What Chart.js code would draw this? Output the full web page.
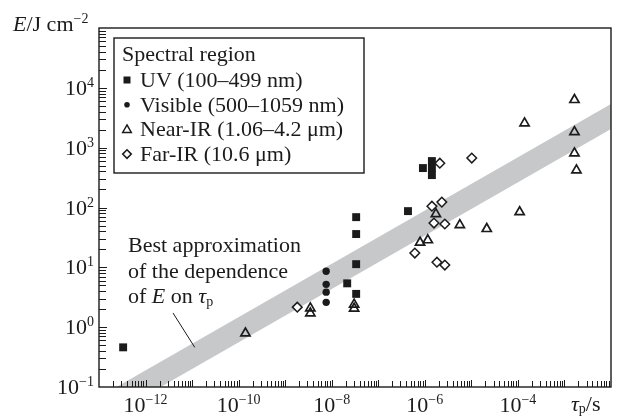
<!DOCTYPE html>
<html>
<head>
<meta charset="utf-8">
<script src="https://cdn.jsdelivr.net/npm/chart.js@4.4.0/dist/chart.umd.min.js"></script>
<style>
  html, body { margin: 0; padding: 0; background: #fff; }
  #wrap { width: 618px; height: 416px; position: relative; }
</style>
</head>
<body>
<div id="wrap"><canvas id="energyChart"></canvas></div>
<script>
// pulse duration tau_p (s) and energy density E (J cm^-2)
const uvTau = [3.3e-13, 2.15e-8, 3.35e-8, 3.35e-8, 3.35e-8, 3.35e-8, 4.35e-7, 1.42e-6, 9.1e-7, 1.42e-6, 1.42e-6];
const uvE = [0.46, 5.4, 69, 36, 11.3, 3.6, 87, 597, 456, 456, 348];

const visTau = [7.6e-9, 7.6e-9, 7.6e-9, 7.6e-9];
const visE = [8.6, 5.2, 3.85, 2.6];

const nirTau = [1.4e-10, 3.47e-9, 3.47e-9, 3.03e-8, 3.03e-8, 7.9e-7, 1.16e-6, 1.73e-6, 5.65e-6, 2.14e-5, 1.09e-4, 1.39e-4, 1.64e-3, 1.64e-3, 1.64e-3, 1.81e-3];
const nirE = [0.79, 2.08, 1.71, 2.4, 2.05, 26, 28.5, 78, 51, 44, 84, 2570, 6300, 1830, 810, 420];

const firTau = [1.82e-9, 6.1e-7, 1.82e-6, 2.69e-6, 1.57e-6, 2.69e-6, 1.42e-6, 2.32e-6, 2.1e-6, 1.02e-5];
const firE = [2.16, 17.3, 12.2, 10.9, 55, 53, 105, 123, 550, 670];

// grey band: best approximation of E(tau_p)
const bandTau = [1e-13, 1e-2];
const bandUpper = [0.068, 5360];
const bandLower = [0.0257, 2050];

const xLabelPowers = [-12, -10, -8, -6, -4];
const yLabelPowers = [-1, 0, 1, 2, 3, 4];
const legendTitle = 'Spectral region';
const seriesNames = ['UV (100–499 nm)', 'Visible (500–1059 nm)', 'Near-IR (1.06–4.2 μm)', 'Far-IR (10.6 μm)'];

const ink = '#1b1b1b';
const serif = '"Liberation Serif", "DejaVu Serif", serif';

function pts(xs, ys) {
    return xs.map((v, i) => ({ x: v, y: ys[i] }));
}

function font(size, style) {
    return (style ? style + ' ' : '') + size + 'px ' + serif;
}

// draws a run of text pieces: [text, size, style, baselineShift]
function drawRun(ctx, x, y, pieces) {
    pieces.forEach(p => {
        ctx.font = font(p[1], p[2]);
        ctx.fillText(p[0], x, y + (p[3] || 0));
        x += ctx.measureText(p[0]).width;
    });
    return x;
}

function runWidth(ctx, pieces) {
    let w = 0;
    pieces.forEach(p => {
        ctx.font = font(p[1], p[2]);
        w += ctx.measureText(p[0]).width;
    });
    return w;
}

function powerLabel(p) {
    return [['10', 22], [String(p).replace('-', '−'), 14, '', -8]];
}

function drawMarker(ctx, style, x, y) {
    ctx.beginPath();
    ctx.lineWidth = 1.5;
    ctx.strokeStyle = ink;
    if (style === 'rect') {
        ctx.fillStyle = ink;
        ctx.fillRect(x - 3.5, y - 3.5, 7, 7);
    } else if (style === 'circle') {
        ctx.fillStyle = ink;
        ctx.arc(x, y, 2.8, 0, Math.PI * 2);
        ctx.fill();
    } else if (style === 'triangle') {
        ctx.moveTo(x, y - 4.5);
        ctx.lineTo(x + 4.3, y + 3);
        ctx.lineTo(x - 4.3, y + 3);
        ctx.closePath();
        ctx.stroke();
    } else {
        ctx.moveTo(x, y - 4.3);
        ctx.lineTo(x + 4.3, y);
        ctx.lineTo(x, y + 4.3);
        ctx.lineTo(x - 4.3, y);
        ctx.closePath();
        ctx.stroke();
    }
}

const decorations = {
    id: 'decorations',
    afterDraw(chart) {
        const ctx = chart.ctx;
        const a = chart.chartArea;
        const xs = chart.scales.x;
        const ys = chart.scales.y;
        ctx.save();
        ctx.fillStyle = ink;
        ctx.strokeStyle = ink;

        // frame
        ctx.lineWidth = 1.4;
        ctx.strokeRect(a.left, a.top, a.right - a.left, a.bottom - a.top);

        // inward log ticks
        ctx.lineWidth = 1;
        ctx.beginPath();
        for (let p = -13; p < -2; p++) {
            for (let m = 1; m < 10; m++) {
                const px = Math.round(xs.getPixelForValue(m * Math.pow(10, p))) + 0.5;
                if (px <= a.left + 1 || px >= a.right - 1) continue;
                ctx.moveTo(px, a.bottom);
                ctx.lineTo(px, a.bottom - (m === 1 ? 7 : 6));
            }
        }
        for (let p = -1; p < 5; p++) {
            for (let m = 1; m < 10; m++) {
                const py = Math.round(ys.getPixelForValue(m * Math.pow(10, p))) + 0.5;
                if (py <= a.top + 1 || py >= a.bottom - 1) continue;
                ctx.moveTo(a.left, py);
                ctx.lineTo(a.left + (m === 1 ? 8 : 7), py);
            }
        }
        ctx.stroke();

        // tick labels
        ctx.textAlign = 'left';
        ctx.textBaseline = 'alphabetic';
        xLabelPowers.forEach(p => {
            const lab = powerLabel(p);
            const cx = xs.getPixelForValue(Math.pow(10, p));
            drawRun(ctx, cx - runWidth(ctx, lab) / 2, a.bottom + 25, lab);
        });
        yLabelPowers.forEach(p => {
            const lab = powerLabel(p);
            const cy = ys.getPixelForValue(Math.pow(10, p));
            drawRun(ctx, a.left - 5 - runWidth(ctx, lab), cy + 7, lab);
        });

        // axis titles
        drawRun(ctx, 13, 31, [['E', 22, 'italic'], ['/J cm', 22], ['−2', 14, '', -8]]);
        drawRun(ctx, 571, 411, [['τ', 22, 'italic'], ['p', 14, '', 2], ['/s', 22]]);

        // annotation of the band
        drawRun(ctx, 128, 252, [['Best approximation', 22]]);
        drawRun(ctx, 128, 278, [['of the dependence', 22]]);
        drawRun(ctx, 128, 303, [['of ', 22], ['E', 22, 'italic'], [' on ', 22], ['τ', 22, 'italic'], ['p', 14, '', 3]]);
        ctx.lineWidth = 1;
        ctx.beginPath();
        ctx.moveTo(173, 313);
        ctx.lineTo(xs.getPixelForValue(1.14e-11), ys.getPixelForValue(0.46));
        ctx.stroke();

        // legend box
        const lx = a.left + 15, ly = a.top + 10;
        ctx.fillStyle = '#fff';
        ctx.fillRect(lx, ly, 250, 135);
        ctx.lineWidth = 1.4;
        ctx.strokeRect(lx, ly, 250, 135);
        ctx.fillStyle = ink;
        drawRun(ctx, lx + 8, ly + 23, [[legendTitle, 22]]);
        const styles = ['rect', 'circle', 'triangle', 'rectRot'];
        seriesNames.forEach((name, i) => {
            const by = ly + 49 + i * 24.7;
            drawMarker(ctx, styles[i], lx + 13, by - 7);
            ctx.fillStyle = ink;
            drawRun(ctx, lx + 26, by, [[name, 22]]);
        });
        ctx.restore();
    }
};

new Chart(document.getElementById('energyChart'), {
    type: 'scatter',
    data: {
        datasets: [
            {
                label: seriesNames[0],
                data: pts(uvTau, uvE),
                pointStyle: 'rect',
                pointRadius: 5.6,
                backgroundColor: ink,
                borderWidth: 0,
                order: 1
            },
            {
                label: seriesNames[1],
                data: pts(visTau, visE),
                pointStyle: 'circle',
                pointRadius: 3.7,
                backgroundColor: ink,
                borderWidth: 0,
                order: 1
            },
            {
                label: seriesNames[2],
                data: pts(nirTau, nirE),
                pointStyle: 'triangle',
                pointRadius: 5.3,
                backgroundColor: 'rgba(255,255,255,0)',
                borderColor: ink,
                borderWidth: 1.7,
                order: 1
            },
            {
                label: seriesNames[3],
                data: pts(firTau, firE),
                pointStyle: 'rectRot',
                pointRadius: 4.8,
                backgroundColor: '#fff',
                borderColor: ink,
                borderWidth: 1.5,
                order: 1
            },
            {
                label: 'band upper',
                data: pts(bandTau, bandUpper),
                showLine: true,
                pointRadius: 0,
                borderWidth: 0,
                fill: false,
                order: 5
            },
            {
                label: 'band lower',
                data: pts(bandTau, bandLower),
                showLine: true,
                pointRadius: 0,
                borderWidth: 0,
                backgroundColor: '#c7c8ca',
                fill: '-1',
                order: 5
            }
        ]
    },
    options: {
        responsive: true,
        maintainAspectRatio: false,
        animation: false,
        layout: { padding: { left: 99, right: 5, top: 28, bottom: 29 } },
        scales: {
            x: { type: 'logarithmic', min: 1e-13, max: 1e-2, display: false },
            y: { type: 'logarithmic', min: 0.1, max: 1e5, display: false }
        },
        plugins: {
            legend: { display: false },
            tooltip: { enabled: false }
        }
    },
    plugins: [decorations]
});
</script>
</body>
</html>
